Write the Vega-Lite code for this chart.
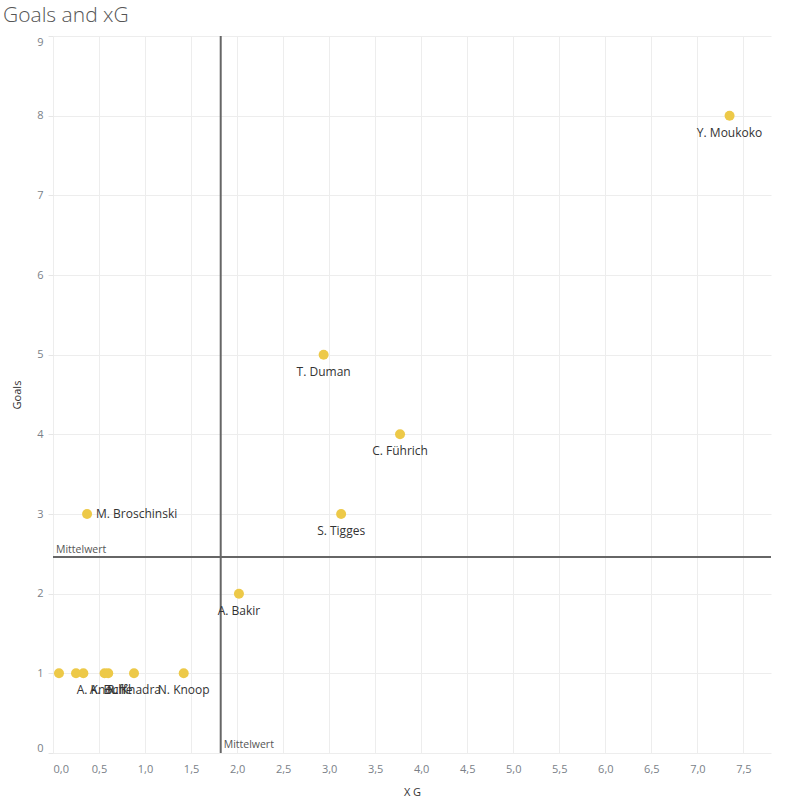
{
  "$schema": "https://vega.github.io/schema/vega-lite/v6.json",
  "autosize": {"type": "none"},
  "padding": {"left": 53, "top": 36, "right": 20, "bottom": 52},
  "width": 718,
  "height": 717,
  "title": {
    "text": "Goals and xG",
    "anchor": "start",
    "frame": "group",
    "dx": -50,
    "dy": 21,
    "offset": 13,
    "baseline": "alphabetic",
    "fontSize": 21,
    "fontWeight": 300,
    "font": "Open Sans",
    "color": "#555555"
  },
  "config": {
    "view": {"stroke": null},
    "font": "Open Sans",
    "axis": {
      "gridColor": "#ededed",
      "gridWidth": 1,
      "domain": false,
      "labelFont": "Open Sans",
      "labelFontSize": 11,
      "labelColor": "#7a7f88",
      "titleFont": "Open Sans",
      "titleFontSize": 11,
      "titleFontWeight": "normal",
      "titleColor": "#333333"
    }
  },
  "data": {
    "values": [
      {"player": "Y. Moukoko", "xg": 7.35, "goals": 8, "label": "Y. Moukoko", "pos": "below"},
      {"player": "T. Duman", "xg": 2.94, "goals": 5, "label": "T. Duman", "pos": "below"},
      {"player": "C. Führich", "xg": 3.77, "goals": 4, "label": "C. Führich", "pos": "below"},
      {"player": "S. Tigges", "xg": 3.13, "goals": 3, "label": "S. Tigges", "pos": "below"},
      {"player": "M. Broschinski", "xg": 0.37, "goals": 3, "label": "M. Broschinski", "pos": "right"},
      {"player": "A. Bakir", "xg": 2.02, "goals": 2, "label": "A. Bakir", "pos": "below"},
      {"player": "N. Knoop", "xg": 1.42, "goals": 1, "label": "N. Knoop", "pos": "below"},
      {"player": "R. Khadra", "xg": 0.88, "goals": 1, "label": "R. Khadra", "pos": "below"},
      {"player": "A. Knoche", "xg": 0.56, "goals": 1, "label": "A. Knoche", "pos": "below"},
      {"player": "A. Buff", "xg": 0.6, "goals": 1, "label": "A. Buff", "pos": "below"},
      {"player": "Spieler 1", "xg": 0.33, "goals": 1, "label": "", "pos": "none"},
      {"player": "Spieler 2", "xg": 0.25, "goals": 1, "label": "", "pos": "none"},
      {"player": "Spieler 3", "xg": 0.065, "goals": 1, "label": "", "pos": "none"}
    ]
  },
  "layer": [
    {
      "transform": [{"aggregate": [{"op": "mean", "field": "xg", "as": "xg_mean"}]}],
      "mark": {"type": "rule", "color": "#666666", "strokeWidth": 2},
      "encoding": {
        "x": {"field": "xg_mean", "type": "quantitative"}
      }
    },
    {
      "transform": [{"aggregate": [{"op": "mean", "field": "goals", "as": "goals_mean"}]}],
      "mark": {"type": "rule", "color": "#666666", "strokeWidth": 2},
      "encoding": {
        "y": {"field": "goals_mean", "type": "quantitative"}
      }
    },
    {
      "transform": [{"aggregate": [{"op": "mean", "field": "goals", "as": "goals_mean"}]}],
      "mark": {"type": "text", "align": "left", "baseline": "bottom", "dx": 3, "dy": -2, "fontSize": 10.5, "color": "#555555", "text": "Mittelwert"},
      "encoding": {
        "x": {"datum": 0, "type": "quantitative"},
        "y": {"field": "goals_mean", "type": "quantitative"}
      }
    },
    {
      "transform": [{"aggregate": [{"op": "mean", "field": "xg", "as": "xg_mean"}]}],
      "mark": {"type": "text", "align": "left", "baseline": "bottom", "dx": 3, "dy": -3, "fontSize": 10.5, "color": "#555555", "text": "Mittelwert"},
      "encoding": {
        "x": {"field": "xg_mean", "type": "quantitative"},
        "y": {"datum": 0, "type": "quantitative"}
      }
    },
    {
      "mark": {"type": "circle", "size": 100, "opacity": 1, "color": "#EDC948"},
      "encoding": {
        "x": {
          "field": "xg",
          "type": "quantitative",
          "title": "X G",
          "scale": {"domain": [0, 7.8], "nice": false, "zero": false},
          "axis": {
            "values": [0, 0.5, 1, 1.5, 2, 2.5, 3, 3.5, 4, 4.5, 5, 5.5, 6, 6.5, 7, 7.5],
            "labelExpr": "replace(format(datum.value, '.1f'), '.', ',')",
            "labelFlush": true,
            "ticks": false,
            "labelPadding": 10,
            "titlePadding": 12
          }
        },
        "y": {
          "field": "goals",
          "type": "quantitative",
          "title": "Goals",
          "scale": {"domain": [0, 9], "nice": false, "zero": false},
          "axis": {
            "values": [0, 1, 2, 3, 4, 5, 6, 7, 8, 9],
            "format": "d",
            "labelFlush": true,
            "ticks": true,
            "tickColor": "#e6e6e6",
            "tickSize": 5,
            "labelPadding": 5,
            "titlePadding": 14
          }
        }
      }
    },
    {
      "transform": [{"filter": "datum.pos == 'below'"}],
      "mark": {"type": "text", "align": "center", "baseline": "middle", "dy": 17, "fontSize": 12, "color": "#333333"},
      "encoding": {
        "x": {"field": "xg", "type": "quantitative"},
        "y": {"field": "goals", "type": "quantitative"},
        "text": {"field": "label"}
      }
    },
    {
      "transform": [{"filter": "datum.pos == 'right'"}],
      "mark": {"type": "text", "align": "left", "baseline": "middle", "dx": 9, "fontSize": 12, "color": "#333333"},
      "encoding": {
        "x": {"field": "xg", "type": "quantitative"},
        "y": {"field": "goals", "type": "quantitative"},
        "text": {"field": "label"}
      }
    }
  ]
}
